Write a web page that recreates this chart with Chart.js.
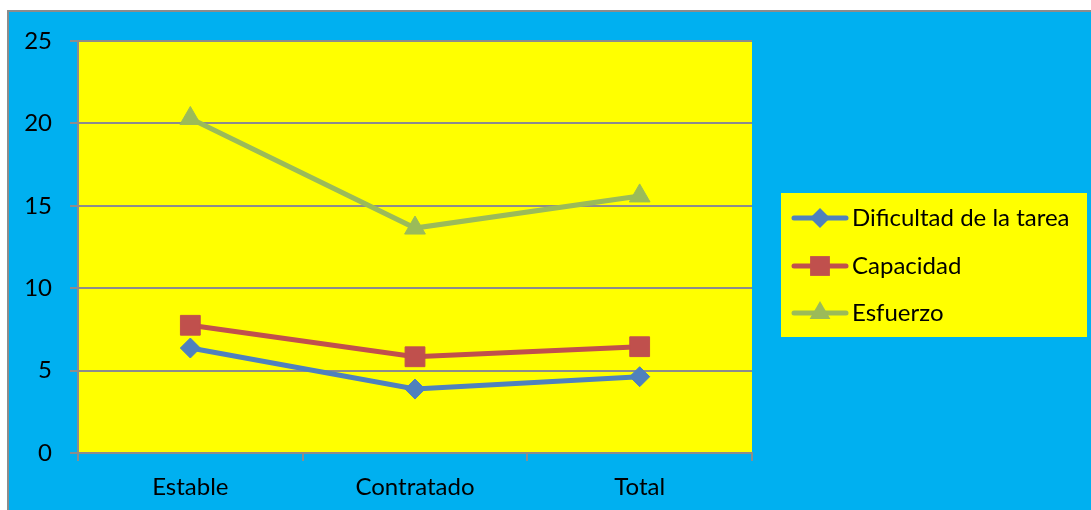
<!DOCTYPE html>
<html>
<head>
<meta charset="utf-8">
<script src="https://cdn.jsdelivr.net/npm/chart.js@4/dist/chart.umd.min.js"></script>
<style>
  html, body { margin: 0; padding: 0; background: #fff; overflow: hidden; }
  #wrap { width: 1091px; height: 510px; position: relative; }
  canvas { display: block; }
</style>
</head>
<body>
<div id="wrap"><canvas id="c" width="1091" height="510"></canvas></div>
<script>
// Categories and series values
const categories = ['Estable', 'Contratado', 'Total'];
const dificultad = [6.37, 3.88, 4.63];
const capacidad  = [7.75, 5.84, 6.45];
const esfuerzo   = [20.3, 13.65, 15.6];
const seriesNames = ['Dificultad de la tarea', 'Capacidad', 'Esfuerzo'];
const yTickValues = [0, 5, 10, 15, 20, 25];

const FONT = 'Lato';
const FONT_SIZE = 24;
const GRID = '#8c8c8c';

// Marker drawing shared by the legend
function drawMarker(ctx, style, r, x, y, color) {
  ctx.save();
  ctx.fillStyle = color;
  ctx.beginPath();
  if (style === 'rectRot') {
    ctx.moveTo(x, y - r); ctx.lineTo(x + r, y); ctx.lineTo(x, y + r); ctx.lineTo(x - r, y);
  } else if (style === 'rect') {
    const s = Math.SQRT1_2 * r;
    ctx.rect(x - s, y - s, 2 * s, 2 * s);
  } else if (style === 'triangle') {
    ctx.moveTo(x, y - r);
    ctx.lineTo(x + r * Math.cos(Math.PI / 6), y + r / 2);
    ctx.lineTo(x - r * Math.cos(Math.PI / 6), y + r / 2);
  }
  ctx.closePath();
  ctx.fill();
  ctx.restore();
}

// Blue frame behind everything and the yellow plot area
const framePlugin = {
  id: 'frame',
  beforeDraw(chart) {
    const { ctx, width, height, chartArea } = chart;
    ctx.save();
    ctx.fillStyle = '#ffffff';
    ctx.fillRect(0, 0, width, height);
    ctx.fillStyle = '#00B0F0';
    ctx.fillRect(8, 11, width - 8, height - 11);
    ctx.strokeStyle = GRID;
    ctx.lineWidth = 2;
    ctx.beginPath();
    ctx.moveTo(8, height); ctx.lineTo(8, 11); ctx.lineTo(width, 11);
    ctx.stroke();
    ctx.fillStyle = '#FFFF00';
    ctx.fillRect(chartArea.left, chartArea.top, chartArea.right - chartArea.left, chartArea.bottom - chartArea.top);
    ctx.restore();
  }
};

// Legend box on the right with line + marker samples
const legendPlugin = {
  id: 'sideLegend',
  afterDraw(chart) {
    const { ctx } = chart;
    const box = { x: 781, y: 193, w: 306, h: 144 };
    ctx.save();
    ctx.fillStyle = '#FFFF00';
    ctx.fillRect(box.x, box.y, box.w, box.h);
    const rows = [218, 266, 313];
    chart.data.datasets.forEach((ds, i) => {
      const y = rows[i];
      ctx.strokeStyle = ds.borderColor;
      ctx.lineWidth = 5;
      ctx.lineCap = 'round';
      ctx.beginPath();
      ctx.moveTo(794, y); ctx.lineTo(846, y);
      ctx.stroke();
      drawMarker(ctx, ds.pointStyle, ds.pointRadius, 820, y, ds.pointBackgroundColor);
      ctx.fillStyle = '#000';
      ctx.font = FONT_SIZE + 'px ' + FONT;
      ctx.textBaseline = 'middle';
      ctx.textAlign = 'left';
      ctx.fillText(ds.label, 852, y);
    });
    ctx.restore();
  }
};

const colors = ['#4F81BD', '#C0504D', '#9BBB59'];
const styles = ['rectRot', 'rect', 'triangle'];
const radii = [10, 14, 12];
const values = [dificultad, capacidad, esfuerzo];

const datasets = values.map((v, i) => ({
  label: seriesNames[i],
  data: v,
  borderColor: colors[i],
  backgroundColor: colors[i],
  pointBackgroundColor: colors[i],
  pointBorderColor: colors[i],
  pointBorderWidth: 1,
  pointStyle: styles[i],
  pointRadius: radii[i],
  pointHoverRadius: radii[i],
  borderWidth: 5,
  tension: 0,
  fill: false
}));
// green drawn on top, then red, then blue
datasets[0].order = 3; datasets[1].order = 2; datasets[2].order = 1;

new Chart(document.getElementById('c'), {
  type: 'line',
  data: { labels: categories, datasets },
  options: {
    responsive: false,
    devicePixelRatio: 1,
    animation: false,
    layout: { padding: { left: 8, top: 41, right: 339, bottom: 0 } },
    plugins: { legend: { display: false }, tooltip: { enabled: false } },
    scales: {
      x: {
        offset: true,
        afterFit(scale) { scale.height = 57; },
        grid: { display: true, drawOnChartArea: false, drawTicks: true, tickLength: 8, color: GRID, lineWidth: 2, offset: true },
        border: { display: true, color: GRID, width: 2 },
        ticks: { color: '#000', font: { family: FONT, size: FONT_SIZE }, padding: 12, maxRotation: 0 }
      },
      y: {
        min: 0, max: 25,
        afterFit(scale) { scale.width = 70; },
        afterBuildTicks(scale) { scale.ticks = yTickValues.map(v => ({ value: v })); },
        grid: { color: GRID, lineWidth: 2, tickLength: 8, drawTicks: true },
        border: { display: true, color: GRID, width: 2 },
        ticks: { color: '#000', font: { family: FONT, size: FONT_SIZE }, padding: 18 }
      }
    }
  },
  plugins: [framePlugin, legendPlugin]
});
</script>
</body>
</html>
